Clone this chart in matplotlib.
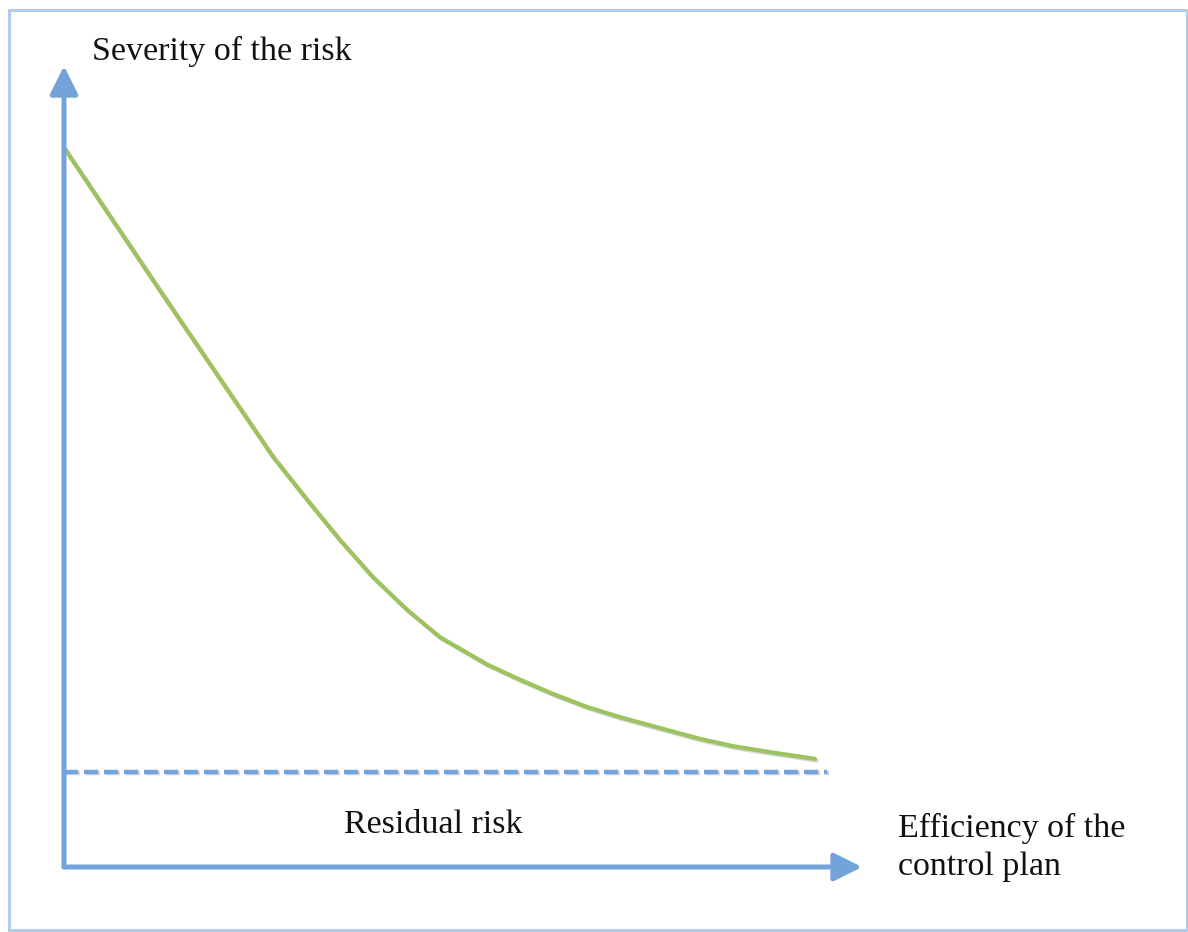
import matplotlib.pyplot as plt
import matplotlib.patheffects as pe
from matplotlib.patches import Rectangle

# control plan efficiency vs. severity of the risk (arbitrary units)
efficiency = [0.00, 1.20, 2.21, 2.62, 3.05, 3.46, 3.87, 4.30, 4.71, 5.30,
              5.71, 6.13, 6.55, 6.97, 7.56, 7.97, 8.38, 8.81, 9.41]
severity = [8.98, 7.20, 5.72, 5.12, 4.58, 4.08, 3.62, 3.21, 2.87, 2.53,
            2.34, 2.16, 2.00, 1.87, 1.71, 1.60, 1.51, 1.44, 1.35]
residual_level = 1.19
residual_end = 9.56

y_label = "Severity of the risk"
x_label_lines = ["Efficiency of the", "control plan"]
residual_label = "Residual risk"

W, H = 1188, 932
blue = "#74a3da"
green = "#9cc35e"
frame_blue = "#b3cbe9"
serif = ["Liberation Serif", "DejaVu Serif"]

fig = plt.figure(figsize=(W / 100, H / 100), dpi=100)
fig.patch.set_facecolor("white")

# light outer frame
fig.patches.append(Rectangle((9 / W, 1 - 930 / H), (1187 - 9) / W, (930 - 10) / H,
                             transform=fig.transFigure, fill=False,
                             edgecolor=frame_blue, linewidth=2.2))

ax = fig.add_axes([64 / W, 1 - 867 / H, (862 - 64) / W, (867 - 66) / H])
ax.set_xlim(0, 10)
ax.set_ylim(0, 10)
ax.axis("off")

shadow = [pe.SimpleLineShadow(offset=(1.2, -1.2), shadow_color="0.5", alpha=0.35), pe.Normal()]

# axes with arrow heads
arrow = dict(arrowstyle="-|>,head_length=1.7,head_width=0.85", color=blue, lw=3.6,
             shrinkA=0, shrinkB=0)
for tip in [(0, 1), (1, 0)]:
    a = ax.annotate("", xy=tip, xycoords="axes fraction", xytext=(0, 0),
                    textcoords="axes fraction", arrowprops=arrow)
    a.arrow_patch.set_path_effects([pe.SimplePatchShadow(offset=(1.2, -1.2), alpha=0.25), pe.Normal()])

ax.plot([0, residual_end], [residual_level, residual_level], color=blue, lw=3.2,
        dashes=(3.15, 1.35), solid_capstyle="butt", path_effects=shadow)
ax.plot(efficiency, severity, color=green, lw=3.0, solid_capstyle="round",
        solid_joinstyle="round", path_effects=shadow)

fig.text(92 / W, 1 - 60 / H, y_label, family=serif, fontsize=24.5,
         va="baseline", ha="left", color="#111111")
fig.text(433 / W, 1 - 833 / H, residual_label, family=serif, fontsize=24.5,
         va="baseline", ha="center", color="#111111")
for i, line in enumerate(x_label_lines):
    fig.text(898 / W, 1 - (837 + 38 * i) / H, line, family=serif, fontsize=24.5,
             va="baseline", ha="left", color="#111111")

fig.savefig("out.png", dpi=100)
